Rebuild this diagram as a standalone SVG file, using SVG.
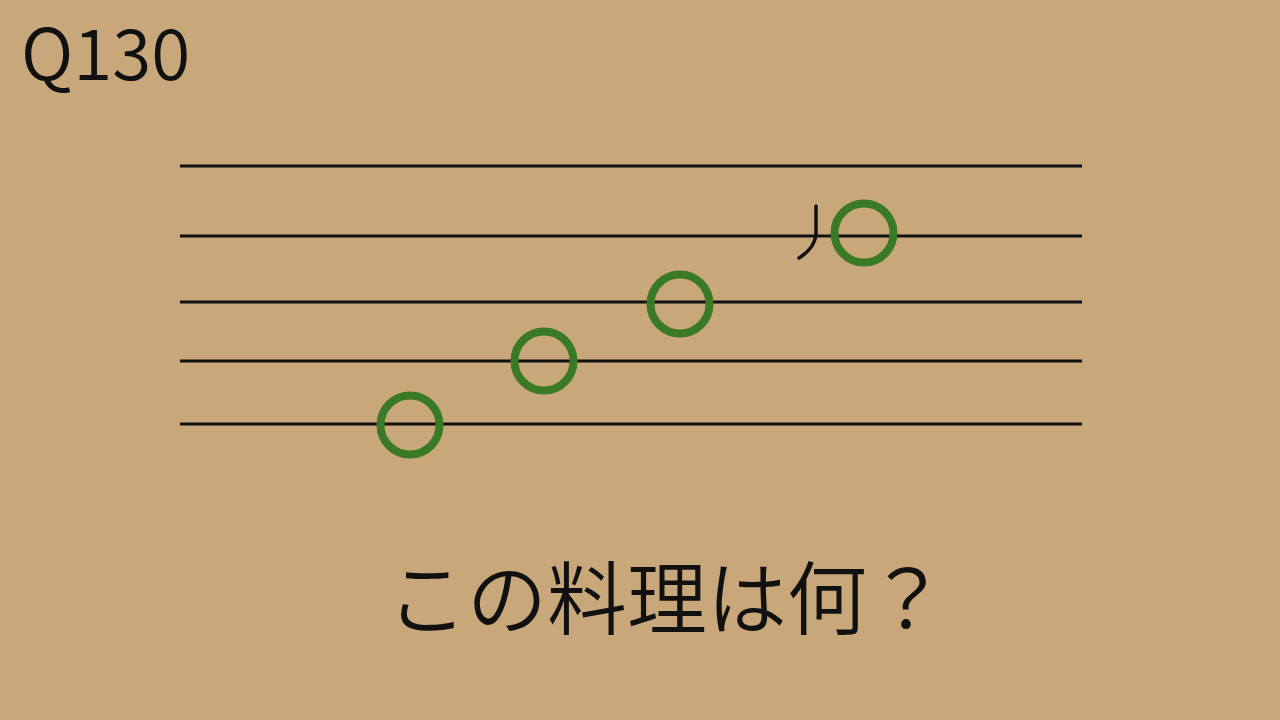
<svg xmlns="http://www.w3.org/2000/svg" width="1280" height="720" viewBox="0 0 1280 720">
<style>
.staff{stroke:#111;stroke-width:3.2;fill:none}
.note{fill:none;stroke:#3a7a25;stroke-width:8}
.t{font-family:"Noto Sans CJK JP","Noto Sans",sans-serif;fill:#111;font-weight:350}
</style>
<rect width="1280" height="720" fill="#c8a77a"/>
<text id="title" class="t" x="21" y="80" font-size="71">Q130</text>
<g id="staff">
<line class="staff" x1="180" y1="166" x2="1082" y2="166"/>
<line class="staff" x1="180" y1="236" x2="1082" y2="236"/>
<line class="staff" x1="180" y1="302" x2="1082" y2="302"/>
<line class="staff" x1="180" y1="361" x2="1082" y2="361"/>
<line class="staff" x1="180" y1="424" x2="1082" y2="424"/>
</g>
<g id="mark"><path d="M816 206 L816 234 Q815 248 799 258" fill="none" stroke="#111" stroke-width="3.5" stroke-linecap="round"/></g>
<g id="notes">
<circle class="note" cx="410" cy="425" r="29.5"/>
<circle class="note" cx="544" cy="361" r="29.5"/>
<circle class="note" cx="680" cy="304" r="29.5"/>
<circle class="note" cx="864" cy="233" r="29.5"/>
</g>
<text id="question" class="t" x="387" y="628" font-size="80">この料理は何？</text>
</svg>
